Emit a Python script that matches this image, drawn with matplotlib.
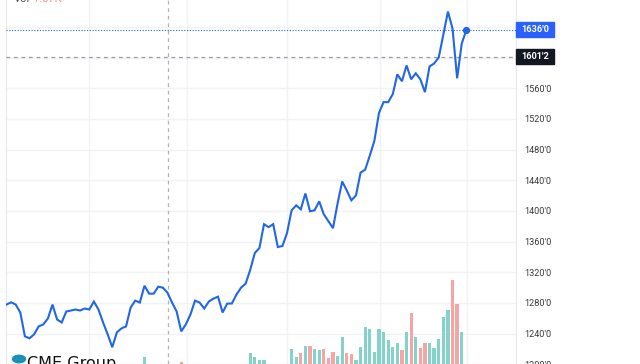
import matplotlib
matplotlib.use("Agg")
import matplotlib.pyplot as plt
from matplotlib.patches import Rectangle, Circle

# ---------------- data ----------------
closes = [1277.6, 1280.5, 1277.6, 1267.2, 1236.1, 1233.5, 1238.7, 1249.1, 1251.7, 1259.4,
          1277.6, 1258.1, 1254.2, 1268.5, 1269.8, 1271.1, 1269.8, 1272.4, 1271.1, 1281.5,
          1271.1, 1254.2, 1238.7, 1221.9, 1241.3, 1246.5, 1249.1, 1273.7, 1282.7, 1280.2,
          1302.2, 1291.8, 1291.8, 1300.9, 1299.6, 1293.1, 1280.2, 1268.5, 1242.6, 1251.7,
          1264.6, 1282.7, 1280.2, 1272.4, 1281.5, 1285.3, 1287.9, 1267.2, 1278.9, 1278.9,
          1290.5, 1299.6, 1304.8, 1322.9, 1344.9, 1351.4, 1382.5, 1378.6, 1382.5, 1352.7,
          1354.0, 1370.8, 1400.6, 1407.1, 1401.9, 1422.6, 1399.3, 1400.6, 1412.3, 1395.4,
          1386.4, 1377.3, 1409.7, 1438.2, 1426.5, 1413.6, 1420.0, 1449.8, 1453.7, 1471.9,
          1491.3, 1527.6, 1541.8, 1541.8, 1552.2, 1578.1, 1569.0, 1589.7, 1571.6, 1579.4,
          1571.6, 1554.8, 1588.4, 1592.3, 1600.1, 1629.9, 1660.0, 1637.7, 1572.9, 1618.2,
          1636.0]

volumes_k = [6.1, 5.4, 6.8, 7.2, 7.5, 6.9, 5.8, 6.3, 5.5, 6.0,
             5.2, 6.6, 5.9, 4.8, 5.1, 5.6, 4.9, 5.3, 6.2, 7.0,
             6.4, 6.7, 7.4, 7.8, 6.5, 5.7, 5.0, 6.1, 6.9, 7.1,
             10.7, 7.3, 6.2, 5.8, 6.6, 7.6, 6.0, 7.2, 9.0, 7.7,
             6.8, 6.1, 5.4, 5.9, 6.3, 5.6, 6.4, 7.1, 7.5, 6.2,
             5.8, 6.9, 7.3, 12.4, 10.8, 9.6, 9.6, 7.4, 7.9, 6.8,
             7.2, 7.6, 13.7, 10.7, 12.4, 15.0, 15.0, 13.8, 13.5, 13.7,
             10.5, 12.7, 11.2, 18.3, 12.4, 12.0, 9.6, 14.7, 22.2, 21.4,
             12.8, 21.5, 20.4, 17.3, 14.5, 16.3, 13.5, 20.4, 27.8, 18.3,
             14.1, 16.3, 16.3, 14.1, 17.8, 26.0, 28.8, 40.4, 31.2, 20.4,
             7.67]

price_ticks = [1200, 1240, 1280, 1320, 1360, 1400, 1440, 1480, 1520, 1560, 1600, 1640]
price_tick_labels = ["1200'0", "1240'0", "1280'0", "1320'0", "1360'0", "1400'0",
                     "1440'0", "1480'0", "1520'0", "1560'0", "", ""]
month_grid = [17.9, 39.2, 61.0, 81.2, 100.1]
last_price = 1636.0
cross_price = 1601.25
cross_x = 35.1
last_price_label = "1636'0"
cross_price_label = "1601'2"
vol_label = "7.67K"

# ---------------- style ----------------
W, H = 640, 364
BLUE = "#2166e6"
UP = "#84d3ca"
DOWN = "#f5a5a4"
GRID = "#f0f2f6"

fig = plt.figure(figsize=(W / 100, H / 100), dpi=100)
fig.patch.set_facecolor("white")

left_px, right_px = 6, 516
ax_vol = fig.add_axes([left_px / W, 0, (right_px - left_px) / W, 1])
ax = ax_vol.twinx()

x = list(range(len(closes)))
xlim = (-0.11, 110.8)
VLIM = (8.08, 148.1)
PLIM = (1200.5, 1675.1)

# volume bars
colors = [UP if i == 0 or closes[i] >= closes[i - 1] else DOWN for i in range(len(closes))]
ax_vol.bar(x, volumes_k, width=0.72, color=colors, zorder=2)
ax_vol.set_xlim(*xlim)
ax_vol.set_ylim(*VLIM)
ax_vol.set_yticks([])
ax_vol.set_xticks([])
for s in ax_vol.spines.values():
    s.set_visible(False)

# grid (on volume axes, behind everything)
for m in month_grid:
    ax_vol.axvline(m, color=GRID, lw=1, zorder=0)
for p in price_ticks:
    ax_vol.axhline(VLIM[0] + (p - PLIM[0]) / (PLIM[1] - PLIM[0]) * (VLIM[1] - VLIM[0]),
                   color=GRID, lw=1, zorder=0)

# price axes
ax.set_xlim(*xlim)
ax.set_ylim(*PLIM)
ax.patch.set_visible(False)
ax.set_yticks(price_ticks)
ax.set_yticklabels(price_tick_labels, fontsize=6.6, color="#3a3a3a", family="Roboto")
ax.tick_params(axis="y", length=0, pad=6)
ax.set_xticks([])
for k, s in ax.spines.items():
    s.set_visible(False)
ax.spines["right"].set_visible(True)
ax.spines["right"].set_color("#e6e8ee")
ax.spines["left"].set_visible(True)
ax.spines["left"].set_color("#e6e8ee")

# crosshair and last price line
ax.axhline(cross_price, color="#9a9da6", lw=0.9, dashes=(3, 3), zorder=3)
ax.axvline(cross_x, color="#b0b3ba", lw=0.9, dashes=(3, 3), zorder=3)
ax.axhline(last_price, color=BLUE, lw=0.8, ls=(0, (1, 1.5)), zorder=3)

# price line
ax.plot(x, closes, color=BLUE, lw=1.5, zorder=4, solid_joinstyle="miter")
ax.plot([x[-1]], [closes[-1]], "o", color=BLUE, ms=4.2, zorder=5)

# price boxes on the right
fig.canvas.draw()
def fig_y(price):
    return ax.transData.transform((0, price))[1] / H

for price, label, col in [(last_price, last_price_label, "#2962ff"),
                          (cross_price, cross_price_label, "#131722")]:
    yc = fig_y(price)
    fig.add_artist(Rectangle((516 / W, yc - 7.5 / H), 38 / W, 15 / H,
                             transform=fig.transFigure, color=col, zorder=10))
    fig.text(535 / W, yc, label, color="white", fontsize=6.6, fontweight="bold",
             ha="center", va="center", family="Roboto", zorder=11)

# Vol legend at top-left (cut off at the top)
fig.text(14 / W, 364.5 / H, "Vol", color="#555555", fontsize=8, va="center", ha="left",
         family="Roboto")
fig.text(34 / W, 364.5 / H, vol_label, color="#f08a88", fontsize=8, va="center", ha="left",
         family="Roboto")

# CME Group logo (cut off at the bottom)
fig.add_artist(Circle((19 / W, 5 / H), 6.5 / W, transform=fig.transFigure,
                      color="#1a8fb8", zorder=10))
fig.text(27 / W, -4.0 / H, "CME Group", color="#111111", fontsize=11.5, ha="left",
         va="baseline", family="DejaVu Sans", zorder=10)

fig.savefig("out.png", dpi=100, facecolor="white")
